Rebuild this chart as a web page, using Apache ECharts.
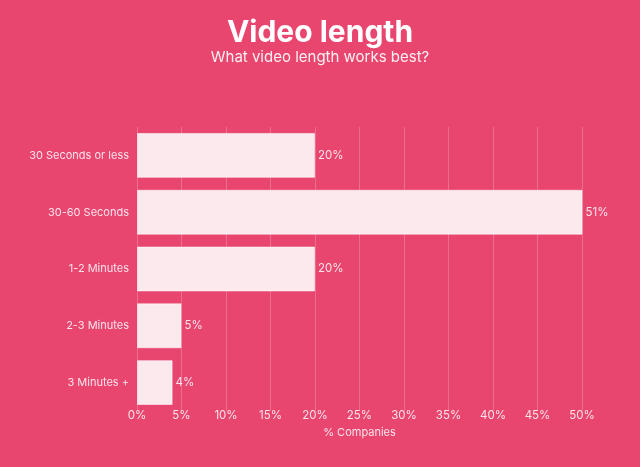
<!DOCTYPE html>
<html lang="en">
<head>
    <meta charset="UTF-8">
    <title>Video length</title>
    <style>
        html,body{
            width: 100%;
            height: 100%;
            margin: 0;
            padding: 0;
            background: #E8456F;
        }
        #chart{
            width: 640px;
            height: 467px;
        }
    </style>
</head>
<body>
    <div id="chart"></div>
    <script src="https://cdn.jsdelivr.net/npm/echarts@6/dist/echarts.min.js"></script>
    <script>
        var categories = ['30 Seconds or less', '30-60 Seconds', '1-2 Minutes', '2-3 Minutes', '3 Minutes +'];
        var shares = [20, 51, 20, 5, 4];
        var textColor = '#FBE3EA';

        var myChart = echarts.init(document.getElementById('chart'));
        var option = {
            backgroundColor: '#E8456F',
            textStyle: { fontFamily: 'Inter' },
            title: {
                text: 'Video length',
                subtext: 'What video length works best?',
                left: 'center',
                top: 13,
                itemGap: 2,
                textStyle: { color: '#fff', fontSize: 30, fontWeight: 'bold', fontFamily: 'Inter' },
                subtextStyle: { color: '#FDF0F3', fontSize: 15, fontFamily: 'Inter' }
            },
            grid: {
                left: 137,
                right: 58,
                top: 127,
                bottom: 56,
                containLabel: false
            },
            xAxis: {
                type: 'value',
                min: 0,
                max: 50,
                interval: 5,
                name: '% Companies',
                nameLocation: 'middle',
                nameGap: 14,
                nameTextStyle: { color: textColor, fontSize: 11 },
                axisLine: { show: false },
                axisTick: { show: false },
                axisLabel: {
                    color: textColor,
                    fontSize: 11.5,
                    margin: -1,
                    formatter: '{value}%'
                },
                splitLine: { lineStyle: { color: 'rgba(255,255,255,0.22)', width: 1 } }
            },
            yAxis: {
                type: 'category',
                inverse: true,
                data: categories,
                axisLine: { show: false },
                axisTick: { show: false },
                axisLabel: { color: textColor, fontSize: 11, margin: 8 }
            },
            series: [{
                type: 'bar',
                data: shares,
                barCategoryGap: '21%',
                clip: true,
                itemStyle: {
                    color: '#FCE9EE',
                    borderColor: 'rgba(255,255,255,0.55)',
                    borderWidth: 1
                },
                label: {
                    show: true,
                    position: 'right',
                    distance: 3,
                    color: textColor,
                    fontSize: 11.5,
                    formatter: '{c}%'
                }
            }]
        };
        myChart.setOption(option);
    </script>
</body>
</html>
